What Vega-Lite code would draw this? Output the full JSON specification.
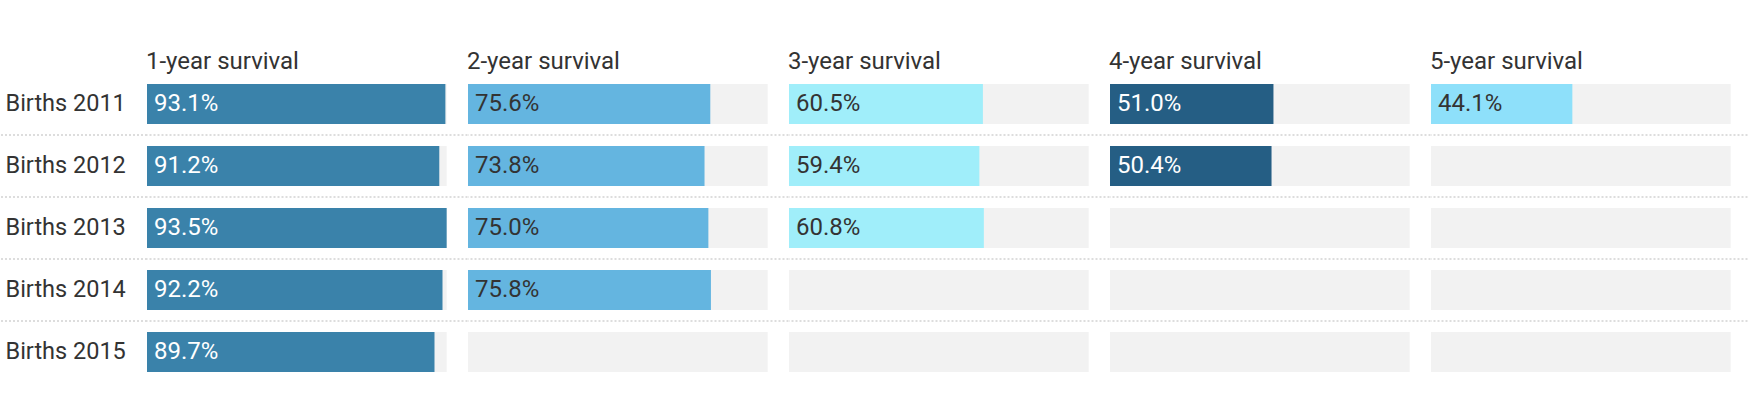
{
  "$schema": "https://vega.github.io/schema/vega-lite/v6.json",
  "autosize": {"type": "pad"},
  "padding": {"left": 0, "top": 49, "right": 0, "bottom": 13},
  "background": "white",
  "config": {"view": {"stroke": null}, "font": "Roboto"},
  "spacing": 0,
  "bounds": "flush",
  "data": {"values": [
    {"births": "Births 2011", "period": "1-year survival", "value": 0.931},
    {"births": "Births 2011", "period": "2-year survival", "value": 0.756},
    {"births": "Births 2011", "period": "3-year survival", "value": 0.605},
    {"births": "Births 2011", "period": "4-year survival", "value": 0.510},
    {"births": "Births 2011", "period": "5-year survival", "value": 0.441},
    {"births": "Births 2012", "period": "1-year survival", "value": 0.912},
    {"births": "Births 2012", "period": "2-year survival", "value": 0.738},
    {"births": "Births 2012", "period": "3-year survival", "value": 0.594},
    {"births": "Births 2012", "period": "4-year survival", "value": 0.504},
    {"births": "Births 2012", "period": "5-year survival", "value": null},
    {"births": "Births 2013", "period": "1-year survival", "value": 0.935},
    {"births": "Births 2013", "period": "2-year survival", "value": 0.750},
    {"births": "Births 2013", "period": "3-year survival", "value": 0.608},
    {"births": "Births 2013", "period": "4-year survival", "value": null},
    {"births": "Births 2013", "period": "5-year survival", "value": null},
    {"births": "Births 2014", "period": "1-year survival", "value": 0.922},
    {"births": "Births 2014", "period": "2-year survival", "value": 0.758},
    {"births": "Births 2014", "period": "3-year survival", "value": null},
    {"births": "Births 2014", "period": "4-year survival", "value": null},
    {"births": "Births 2014", "period": "5-year survival", "value": null},
    {"births": "Births 2015", "period": "1-year survival", "value": 0.897},
    {"births": "Births 2015", "period": "2-year survival", "value": null},
    {"births": "Births 2015", "period": "3-year survival", "value": null},
    {"births": "Births 2015", "period": "4-year survival", "value": null},
    {"births": "Births 2015", "period": "5-year survival", "value": null}
  ]},
  "hconcat": [
    {
      "width": 146, "height": 310,
      "transform": [{"filter": "datum.period === '1-year survival' && datum.births !== 'Births 2015'"}],
      "mark": {"type": "rule", "strokeDash": [2, 2], "strokeWidth": 2, "color": "#dddddd"},
      "encoding": {
        "y": {"field": "births", "type": "nominal", "bandPosition": 1,
              "scale": {"type": "band", "domain": ["Births 2011", "Births 2012", "Births 2013", "Births 2014", "Births 2015"], "paddingInner": 0, "paddingOuter": 0},
              "axis": {"title": null, "domain": false, "ticks": false, "grid": false, "labelAlign": "left", "labelBaseline": "middle", "labelPadding": -4, "labelFontSize": 23.5, "labelColor": "#333333", "labelFont": "Roboto"}}
      }
    },
    {
      "width": 320.5, "height": 310,
      "title": {"text": "1-year survival", "anchor": "start", "baseline": "alphabetic", "offset": -19.5, "fontSize": 24, "font": "Roboto", "fontWeight": "normal", "color": "#333333"},
      "transform": [{"filter": {"field": "period", "equal": "1-year survival"}}],
      "encoding": {"y": {"field": "births", "type": "nominal", "scale": {"type": "band", "domain": ["Births 2011", "Births 2012", "Births 2013", "Births 2014", "Births 2015"], "paddingInner": 0, "paddingOuter": 0}, "axis": null}},
      "layer": [
        {"transform": [{"filter": "datum.births !== 'Births 2015'"}], "mark": {"type": "rule", "strokeDash": [2, 2], "strokeWidth": 2, "color": "#dddddd"}, "encoding": {"y": {"field": "births", "type": "nominal", "bandPosition": 1}}},
        {"mark": {"type": "bar", "color": "#f2f2f2", "height": {"band": 0.645}}, "encoding": {"x": {"datum": 0.935, "type": "quantitative", "scale": {"domain": [0, 0.9989]}, "axis": null}}},
        {"mark": {"type": "bar", "height": {"band": 0.645}}, "encoding": {"x": {"field": "value", "type": "quantitative"}, "color": {"field": "period", "type": "nominal", "scale": {"domain": ["1-year survival", "2-year survival", "3-year survival", "4-year survival", "5-year survival"], "range": ["#3a82aa", "#64b5e0", "#a0eefa", "#255e84", "#8ee0fa"]}, "legend": null}}},
        {"transform": [{"filter": "isValid(datum.value)"}], "mark": {"type": "text", "align": "left", "baseline": "middle", "dx": 7, "fontSize": 24, "font": "Roboto"}, "encoding": {"x": {"datum": 0, "type": "quantitative"}, "text": {"field": "value", "type": "quantitative", "format": ".1%"}, "color": {"condition": {"test": "datum.period === '1-year survival' || datum.period === '4-year survival'", "value": "white"}, "value": "#333333"}}}
      ]
    },
    {
      "width": 320.5, "height": 310,
      "title": {"text": "2-year survival", "anchor": "start", "baseline": "alphabetic", "offset": -19.5, "fontSize": 24, "font": "Roboto", "fontWeight": "normal", "color": "#333333"},
      "transform": [{"filter": {"field": "period", "equal": "2-year survival"}}],
      "encoding": {"y": {"field": "births", "type": "nominal", "scale": {"type": "band", "domain": ["Births 2011", "Births 2012", "Births 2013", "Births 2014", "Births 2015"], "paddingInner": 0, "paddingOuter": 0}, "axis": null}},
      "layer": [
        {"transform": [{"filter": "datum.births !== 'Births 2015'"}], "mark": {"type": "rule", "strokeDash": [2, 2], "strokeWidth": 2, "color": "#dddddd"}, "encoding": {"y": {"field": "births", "type": "nominal", "bandPosition": 1}}},
        {"mark": {"type": "bar", "color": "#f2f2f2", "height": {"band": 0.645}}, "encoding": {"x": {"datum": 0.935, "type": "quantitative", "scale": {"domain": [0, 0.9989]}, "axis": null}}},
        {"mark": {"type": "bar", "height": {"band": 0.645}}, "encoding": {"x": {"field": "value", "type": "quantitative"}, "color": {"field": "period", "type": "nominal", "scale": {"domain": ["1-year survival", "2-year survival", "3-year survival", "4-year survival", "5-year survival"], "range": ["#3a82aa", "#64b5e0", "#a0eefa", "#255e84", "#8ee0fa"]}, "legend": null}}},
        {"transform": [{"filter": "isValid(datum.value)"}], "mark": {"type": "text", "align": "left", "baseline": "middle", "dx": 7, "fontSize": 24, "font": "Roboto"}, "encoding": {"x": {"datum": 0, "type": "quantitative"}, "text": {"field": "value", "type": "quantitative", "format": ".1%"}, "color": {"condition": {"test": "datum.period === '1-year survival' || datum.period === '4-year survival'", "value": "white"}, "value": "#333333"}}}
      ]
    },
    {
      "width": 320.5, "height": 310,
      "title": {"text": "3-year survival", "anchor": "start", "baseline": "alphabetic", "offset": -19.5, "fontSize": 24, "font": "Roboto", "fontWeight": "normal", "color": "#333333"},
      "transform": [{"filter": {"field": "period", "equal": "3-year survival"}}],
      "encoding": {"y": {"field": "births", "type": "nominal", "scale": {"type": "band", "domain": ["Births 2011", "Births 2012", "Births 2013", "Births 2014", "Births 2015"], "paddingInner": 0, "paddingOuter": 0}, "axis": null}},
      "layer": [
        {"transform": [{"filter": "datum.births !== 'Births 2015'"}], "mark": {"type": "rule", "strokeDash": [2, 2], "strokeWidth": 2, "color": "#dddddd"}, "encoding": {"y": {"field": "births", "type": "nominal", "bandPosition": 1}}},
        {"mark": {"type": "bar", "color": "#f2f2f2", "height": {"band": 0.645}}, "encoding": {"x": {"datum": 0.935, "type": "quantitative", "scale": {"domain": [0, 0.9989]}, "axis": null}}},
        {"mark": {"type": "bar", "height": {"band": 0.645}}, "encoding": {"x": {"field": "value", "type": "quantitative"}, "color": {"field": "period", "type": "nominal", "scale": {"domain": ["1-year survival", "2-year survival", "3-year survival", "4-year survival", "5-year survival"], "range": ["#3a82aa", "#64b5e0", "#a0eefa", "#255e84", "#8ee0fa"]}, "legend": null}}},
        {"transform": [{"filter": "isValid(datum.value)"}], "mark": {"type": "text", "align": "left", "baseline": "middle", "dx": 7, "fontSize": 24, "font": "Roboto"}, "encoding": {"x": {"datum": 0, "type": "quantitative"}, "text": {"field": "value", "type": "quantitative", "format": ".1%"}, "color": {"condition": {"test": "datum.period === '1-year survival' || datum.period === '4-year survival'", "value": "white"}, "value": "#333333"}}}
      ]
    },
    {
      "width": 320.5, "height": 310,
      "title": {"text": "4-year survival", "anchor": "start", "baseline": "alphabetic", "offset": -19.5, "fontSize": 24, "font": "Roboto", "fontWeight": "normal", "color": "#333333"},
      "transform": [{"filter": {"field": "period", "equal": "4-year survival"}}],
      "encoding": {"y": {"field": "births", "type": "nominal", "scale": {"type": "band", "domain": ["Births 2011", "Births 2012", "Births 2013", "Births 2014", "Births 2015"], "paddingInner": 0, "paddingOuter": 0}, "axis": null}},
      "layer": [
        {"transform": [{"filter": "datum.births !== 'Births 2015'"}], "mark": {"type": "rule", "strokeDash": [2, 2], "strokeWidth": 2, "color": "#dddddd"}, "encoding": {"y": {"field": "births", "type": "nominal", "bandPosition": 1}}},
        {"mark": {"type": "bar", "color": "#f2f2f2", "height": {"band": 0.645}}, "encoding": {"x": {"datum": 0.935, "type": "quantitative", "scale": {"domain": [0, 0.9989]}, "axis": null}}},
        {"mark": {"type": "bar", "height": {"band": 0.645}}, "encoding": {"x": {"field": "value", "type": "quantitative"}, "color": {"field": "period", "type": "nominal", "scale": {"domain": ["1-year survival", "2-year survival", "3-year survival", "4-year survival", "5-year survival"], "range": ["#3a82aa", "#64b5e0", "#a0eefa", "#255e84", "#8ee0fa"]}, "legend": null}}},
        {"transform": [{"filter": "isValid(datum.value)"}], "mark": {"type": "text", "align": "left", "baseline": "middle", "dx": 7, "fontSize": 24, "font": "Roboto"}, "encoding": {"x": {"datum": 0, "type": "quantitative"}, "text": {"field": "value", "type": "quantitative", "format": ".1%"}, "color": {"condition": {"test": "datum.period === '1-year survival' || datum.period === '4-year survival'", "value": "white"}, "value": "#333333"}}}
      ]
    },
    {
      "width": 320.5, "height": 310,
      "title": {"text": "5-year survival", "anchor": "start", "baseline": "alphabetic", "offset": -19.5, "fontSize": 24, "font": "Roboto", "fontWeight": "normal", "color": "#333333"},
      "transform": [{"filter": {"field": "period", "equal": "5-year survival"}}],
      "encoding": {"y": {"field": "births", "type": "nominal", "scale": {"type": "band", "domain": ["Births 2011", "Births 2012", "Births 2013", "Births 2014", "Births 2015"], "paddingInner": 0, "paddingOuter": 0}, "axis": null}},
      "layer": [
        {"transform": [{"filter": "datum.births !== 'Births 2015'"}], "mark": {"type": "rule", "strokeDash": [2, 2], "strokeWidth": 2, "color": "#dddddd"}, "encoding": {"y": {"field": "births", "type": "nominal", "bandPosition": 1}}},
        {"mark": {"type": "bar", "color": "#f2f2f2", "height": {"band": 0.645}}, "encoding": {"x": {"datum": 0.935, "type": "quantitative", "scale": {"domain": [0, 0.9989]}, "axis": null}}},
        {"mark": {"type": "bar", "height": {"band": 0.645}}, "encoding": {"x": {"field": "value", "type": "quantitative"}, "color": {"field": "period", "type": "nominal", "scale": {"domain": ["1-year survival", "2-year survival", "3-year survival", "4-year survival", "5-year survival"], "range": ["#3a82aa", "#64b5e0", "#a0eefa", "#255e84", "#8ee0fa"]}, "legend": null}}},
        {"transform": [{"filter": "isValid(datum.value)"}], "mark": {"type": "text", "align": "left", "baseline": "middle", "dx": 7, "fontSize": 24, "font": "Roboto"}, "encoding": {"x": {"datum": 0, "type": "quantitative"}, "text": {"field": "value", "type": "quantitative", "format": ".1%"}, "color": {"condition": {"test": "datum.period === '1-year survival' || datum.period === '4-year survival'", "value": "white"}, "value": "#333333"}}}
      ]
    }
  ]
}
